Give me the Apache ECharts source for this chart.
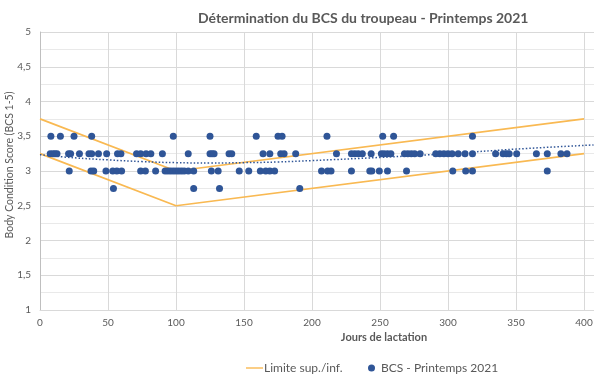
<!DOCTYPE html>
<html>
<head>
<meta charset="utf-8">
<script src="https://cdn.jsdelivr.net/npm/echarts@6/dist/echarts.min.js"></script>
<style>
html,body{margin:0;padding:0;background:#fff;}
#chart{width:594px;height:374px;}
</style>
</head>
<body>
<div id="chart"></div>
<script>
// BCS observations grouped by score (days in lactation)
const days350 = [8, 15, 25, 38, 98, 125, 159, 175, 178, 211, 252, 260, 318];
const days325 = [7.5, 9.5, 11, 12.5, 21, 22.5, 29, 36, 38, 43, 49, 57, 59.5, 71, 74, 78, 81.5, 90, 109, 125, 126.5, 128, 139, 141, 164, 169, 177, 179.5, 188, 218, 229, 231.5, 234, 237, 243.5, 251, 253, 255.5, 258, 268, 270.5, 273, 275.5, 279.5, 291, 294, 297, 300, 303, 307.5, 312.5, 318, 335, 340.5, 343, 345, 350.5, 365, 373, 383, 387.5];
const days300 = [21.5, 37.5, 39.5, 48.5, 53.5, 56.5, 60, 74, 77.5, 85, 92, 94, 96, 98, 100, 102, 104, 106, 109, 113, 126, 131, 146.5, 153.5, 162, 166, 169, 172.5, 207, 211.5, 214, 229, 242.5, 244, 249.5, 255.5, 269.5, 303.5, 313, 318, 373];
const days275 = [54, 113, 132, 191];
const scoreLevels = [3.5, 3.25, 3.0, 2.75];

// Upper / lower limits
const limitDays = [0, 100, 400];
const limitUpper = [3.75, 3.0, 3.75];
const limitLower = [3.25, 2.5, 3.25];

// Polynomial trendline
const trendDays = [0, 25, 50, 75, 100, 125, 150, 175, 200, 250, 300, 350, 407];
const trendScores = [3.235, 3.19, 3.16, 3.135, 3.12, 3.115, 3.12, 3.13, 3.15, 3.195, 3.25, 3.315, 3.375];

const xTicks = [0, 50, 100, 150, 200, 250, 300, 350, 400];
const yTicks = [1, 1.5, 2, 2.5, 3, 3.5, 4, 4.5, 5];

const groups = [days350, days325, days300, days275];
const bcsData = [];
groups.forEach((g, i) => g.forEach(d => bcsData.push([d, scoreLevels[i]])));

const zip = (a, b) => a.map((v, i) => [v, b[i]]);

const LINE = '#F9B952';
const DOT = '#2F5597';
const TXT = '#595959';
const FONT = 'Lato, "Liberation Sans", sans-serif';

const chart = echarts.init(document.getElementById('chart'), null, {renderer: 'canvas'});
chart.setOption({
  animation: false,
  backgroundColor: '#fff',
  textStyle: {fontFamily: FONT},
  title: {
    text: 'Détermination du BCS du troupeau - Printemps 2021',
    left: 193, top: 6,
    textStyle: {fontFamily: FONT, fontSize: 14, fontWeight: 'bold', color: TXT}
  },
  legend: [{
    left: 241, top: 357,
    itemWidth: 17, itemHeight: 6, itemGap: 10,
    textStyle: {fontFamily: FONT, fontSize: 12, color: TXT, padding: [0,0,0,-4]},
    data: [{name: 'Limite sup./inf.', icon: 'path://M0,0 L17,0 L17,1.4 L0,1.4 Z'}]
  }, {
    left: 363, top: 357,
    itemWidth: 7, itemHeight: 7,
    textStyle: {fontFamily: FONT, fontSize: 12, color: TXT, padding: [0,0,0,1]},
    data: [{name: 'BCS - Printemps 2021', icon: 'circle'}]
  }],
  grid: {left: 40, right: 0, top: 32, bottom: 64, containLabel: false, outerBoundsMode: 'none'},
  xAxis: {
    type: 'value', min: xTicks[0], max: 407.35, interval: 50,
    name: 'Jours de lactation', nameLocation: 'middle', nameGap: 22, nameMoveOverlap: false,
    nameTextStyle: {fontFamily: FONT, fontSize: 11, fontWeight: 'bold', color: TXT, padding: [0,0,0,134]},
    axisLine: {show: true, lineStyle: {color: '#D9D9D9'}},
    axisTick: {show: false},
    axisLabel: {fontSize: 10, color: TXT, margin: 8, showMaxLabel: false,
      formatter: v => xTicks.includes(v) ? String(v) : ''},
    splitLine: {show: true, lineStyle: {color: '#D9D9D9'}}
  },
  yAxis: {
    type: 'value', min: yTicks[0], max: yTicks[yTicks.length-1], interval: 0.5,
    name: 'Body Condition Score (BCS 1-5)', nameLocation: 'middle', nameGap: 25, nameRotate: 90,
    nameMoveOverlap: false,
    nameTextStyle: {fontFamily: FONT, fontSize: 10.5, color: TXT, padding: [0,0,0,12]},
    axisLine: {show: true, lineStyle: {color: '#BFBFBF'}},
    axisTick: {show: false},
    axisLabel: {fontSize: 10, color: TXT, margin: 9,
      formatter: v => String(v).replace('.', ',')},
    splitLine: {show: true, lineStyle: {color: '#D9D9D9'}},
    minorTick: {show: false, splitNumber: 2},
    minorSplitLine: {show: true, lineStyle: {color: '#E9E9E9'}}
  },
  series: [
    {name: 'Limite sup./inf.', type: 'line', data: zip(limitDays, limitUpper), symbol: 'none',
      lineStyle: {color: LINE, width: 1.75}, itemStyle: {color: LINE}, z: 2},
    {name: 'Limite sup./inf.', type: 'line', data: zip(limitDays, limitLower), symbol: 'none',
      lineStyle: {color: LINE, width: 1.75}, itemStyle: {color: LINE}, z: 2},
    {name: 'BCS - Printemps 2021', type: 'scatter', data: bcsData, symbol: 'circle', symbolSize: 7,
      itemStyle: {color: DOT, opacity: 1}, z: 3},
    {name: 'Tendance', type: 'line', data: zip(trendDays, trendScores), symbol: 'none', smooth: 0.4,
      lineStyle: {color: DOT, width: 1.5, type: [1.5, 2]}, z: 4, silent: true}
  ]
});
</script>
</body>
</html>
